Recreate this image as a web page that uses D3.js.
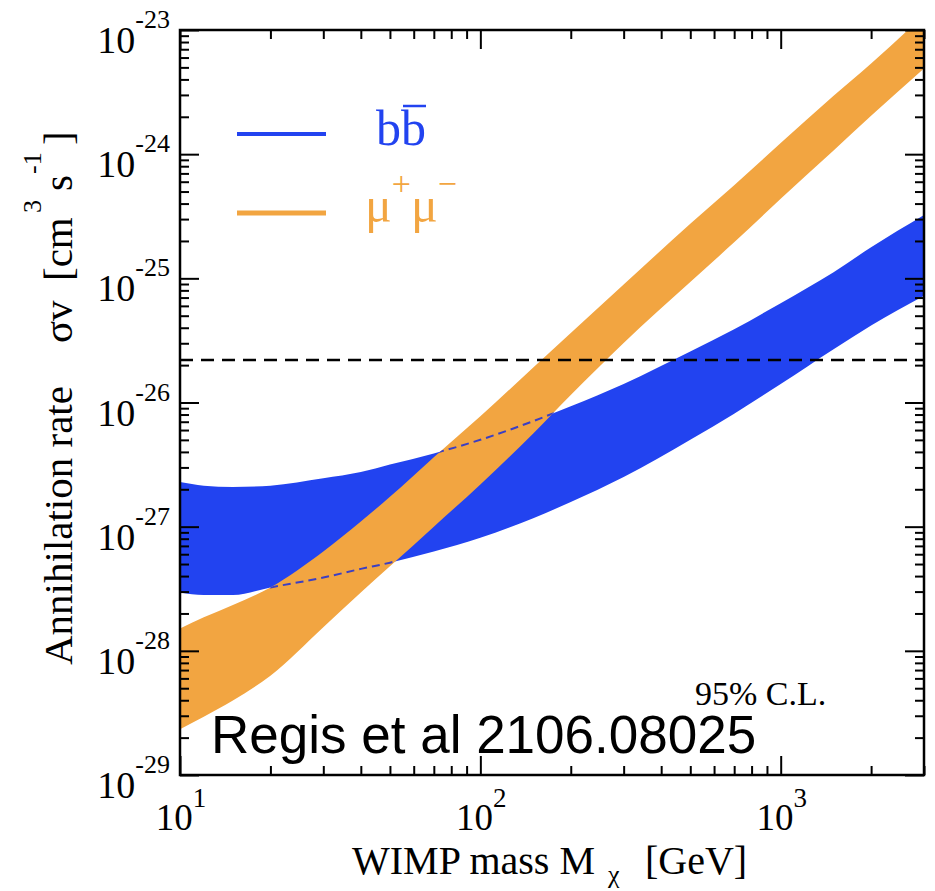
<!DOCTYPE html>
<html><head><meta charset="utf-8">
<script src="https://cdn.jsdelivr.net/npm/d3@7"></script>
<style>body{margin:0;background:#fff} svg{display:block}</style>
</head><body>
<svg id="c" width="935" height="891"></svg>
<script>
// WIMP mass [GeV]
const masses = [10,12,15,20,30,40,50,70,100,150,200,300,500,700,1000,1500,2000,3000];
// b-bbar band (sigma v, cm^3 s^-1)
const bbLower = [2.95e-28,2.82e-28,2.82e-28,3.24e-28,3.89e-28,4.57e-28,5.13e-28,6.31e-28,8.13e-28,1.17e-27,1.58e-27,2.51e-27,5.01e-27,8.13e-27,1.41e-26,2.69e-26,4.17e-26,7.24e-26];
const bbUpper = [2.29e-27,2.14e-27,2.09e-27,2.14e-27,2.45e-27,2.75e-27,3.16e-27,3.89e-27,5.01e-27,7.08e-27,9.33e-27,1.41e-26,2.57e-26,3.89e-26,6.31e-26,1.12e-25,1.78e-25,3.24e-25];
// mu+ mu- band
const mumuLower = [2.34e-29,2.95e-29,3.98e-29,6.31e-29,1.55e-28,2.95e-28,4.79e-28,1.0e-27,2.19e-27,5.62e-27,1.15e-26,3.02e-26,9.33e-26,1.95e-25,4.37e-25,1.07e-24,2.04e-24,4.90e-24];
const mumuUpper = [1.51e-28,1.86e-28,2.34e-28,3.24e-28,6.31e-28,1.10e-27,1.74e-27,3.63e-27,7.76e-27,1.91e-26,3.63e-26,8.91e-26,2.75e-25,5.62e-25,1.23e-24,2.95e-24,5.37e-24,1.32e-23];
const thermalRate = 2.2e-26;
const xMajorTicks = [10,100,1000];
const xTickExponents = ["1","2","3"];
const yMajorTicks = [1e-29,1e-28,1e-27,1e-26,1e-25,1e-24,1e-23];
const yTickExponents = ["-29","-28","-27","-26","-25","-24","-23"];

const BLUE = "#2243f0", ORANGE = "#f2a541", DASHBLUE = "#3b3fc4";
const SERIF = "'Liberation Serif','Times New Roman',serif";
const SANS = "'Liberation Sans',Arial,sans-serif";

const M = {left:180, right:924, top:30, bottom:775};
const x = d3.scaleLog().domain([10,3000]).range([M.left, M.right]);
const y = d3.scaleLog().domain([1e-29,1e-23]).range([M.bottom, M.top]);
const svg = d3.select('#c');
const defs = svg.append('defs');
defs.append('clipPath').attr('id','plot').append('rect')
  .attr('x',M.left).attr('y',M.top).attr('width',M.right-M.left).attr('height',M.bottom-M.top);

const bb = masses.map((m,i)=>({m, lo:bbLower[i], hi:bbUpper[i]}));
const mu = masses.map((m,i)=>({m, lo:mumuLower[i], hi:mumuUpper[i]}));
const area = d3.area().x(d=>x(d.m)).y0(d=>y(d.lo)).y1(d=>y(d.hi)).curve(d3.curveMonotoneX);
const lineLo = d3.line().x(d=>x(d.m)).y(d=>y(d.lo)).curve(d3.curveMonotoneX);
const lineHi = d3.line().x(d=>x(d.m)).y(d=>y(d.hi)).curve(d3.curveMonotoneX);

const g = svg.append('g').attr('clip-path','url(#plot)');
g.append('path').datum(bb).attr('d',area).attr('fill',BLUE);
g.append('path').datum(mu).attr('d',area).attr('fill',ORANGE);
defs.append('clipPath').attr('id','muclip').append('path').datum(mu).attr('d',area);
const gd = g.append('g').attr('clip-path','url(#muclip)');
[lineLo,lineHi].forEach(l=>gd.append('path').datum(bb).attr('d',l)
  .attr('fill','none').attr('stroke',DASHBLUE).attr('stroke-width',2).attr('stroke-dasharray','8,5'));
g.append('line').attr('x1',M.left).attr('x2',M.right)
  .attr('y1',y(thermalRate)).attr('y2',y(thermalRate))
  .attr('stroke','#000').attr('stroke-width',2.5).attr('stroke-dasharray','13,8');

// axes with inward ticks on all sides
const isMaj = t => Math.abs(Math.log10(t)-Math.round(Math.log10(t)))<1e-6;
const xMin = x.ticks().filter(t=>!isMaj(t));
const yMin = y.ticks().filter(t=>!isMaj(t));
function addAxis(axisFn, scale, vals, size, tx, ty){
  const a = svg.append('g').attr('transform',`translate(${tx},${ty})`)
    .call(axisFn(scale).tickValues(vals).tickSize(-size).tickFormat(''));
  a.select('.domain').remove();
  a.selectAll('line').attr('stroke','#000').attr('stroke-width',2);
}
[[d3.axisBottom,0,M.bottom],[d3.axisTop,0,M.top]].forEach(([f,tx,ty])=>{
  addAxis(f,x,xMajorTicks,19,tx,ty); addAxis(f,x,xMin,9,tx,ty);
});
[[d3.axisLeft,M.left,0],[d3.axisRight,M.right,0]].forEach(([f,tx,ty])=>{
  addAxis(f,y,yMajorTicks,19,tx,ty); addAxis(f,y,yMin,9,tx,ty);
});
svg.append('rect').attr('x',M.left).attr('y',M.top).attr('width',M.right-M.left).attr('height',M.bottom-M.top)
  .attr('fill','none').attr('stroke','#000').attr('stroke-width',2.5);

// tick labels
yMajorTicks.forEach((v,i)=>{
  const t = svg.append('text').attr('x',170).attr('y',y(v)+23).attr('text-anchor','end')
    .attr('font-family',SERIF).attr('font-size',38).attr('fill','#000');
  t.append('tspan').text('10');
  t.append('tspan').attr('dy',-25).attr('font-size',26).text(yTickExponents[i]);
});
xMajorTicks.forEach((v,i)=>{
  const t = svg.append('text').attr('x',x(v)+1).attr('y',830).attr('text-anchor','middle')
    .attr('font-family',SERIF).attr('font-size',37).attr('fill','#000');
  t.append('tspan').text('10');
  t.append('tspan').attr('dy',-23).attr('font-size',27).text(xTickExponents[i]);
});

// axis titles
const xt = svg.append('text').attr('x',352).attr('y',874).attr('font-family',SERIF).attr('font-size',40).attr('fill','#000');
xt.append('tspan').text('WIMP mass M');
xt.append('tspan').attr('x',608).attr('dy',9).attr('font-size',26).text('χ');
xt.append('tspan').attr('x',645).attr('dy',-9).text('[GeV]');

const yt = svg.append('text').attr('transform','translate(72,665) rotate(-90)')
  .attr('font-family',SERIF).attr('font-size',41).attr('fill','#000');
yt.append('tspan').attr('x',0).attr('y',0).text('Annihilation rate');
yt.append('tspan').attr('x',322).attr('y',0).text('σv');
yt.append('tspan').attr('x',384).attr('y',0).text('[cm');
yt.append('tspan').attr('x',452).attr('y',-31).attr('font-size',26).text('3');
yt.append('tspan').attr('x',474).attr('y',0).text('s');
yt.append('tspan').attr('x',491).attr('y',-31).attr('font-size',26).text('-1');
yt.append('tspan').attr('x',520).attr('y',0).text(']');

// legend
svg.append('line').attr('x1',237).attr('x2',326).attr('y1',134).attr('y2',134).attr('stroke',BLUE).attr('stroke-width',4);
svg.append('line').attr('x1',237).attr('x2',326).attr('y1',213).attr('y2',213).attr('stroke',ORANGE).attr('stroke-width',5);
const lb = svg.append('text').attr('x',376).attr('y',145).attr('font-family',SERIF).attr('font-size',50).attr('fill',BLUE).text('bb');
const n = lb.node();
const s1 = n.getStartPositionOfChar(1).x, e1 = n.getEndPositionOfChar(1).x;
svg.append('line').attr('x1',s1+2).attr('x2',e1).attr('y1',106).attr('y2',106).attr('stroke',BLUE).attr('stroke-width',2.5);
const lm = svg.append('text').attr('x',365).attr('y',222).attr('font-family',SERIF).attr('font-size',50).attr('fill',ORANGE);
lm.append('tspan').text('μ');
lm.append('tspan').attr('dy',-27).attr('font-size',34).text('+');
lm.append('tspan').attr('dy',27).text('μ');
lm.append('tspan').attr('dy',-27).attr('font-size',34).text('−');

// annotations
svg.append('text').attr('x',695).attr('y',705).attr('font-family',SERIF).attr('font-size',34).attr('fill','#000').text('95% C.L.');
svg.append('text').attr('x',211).attr('y',753).attr('font-family',SANS).attr('font-size',53).attr('fill','#000').text('Regis et al 2106.08025');
</script>
</body></html>
